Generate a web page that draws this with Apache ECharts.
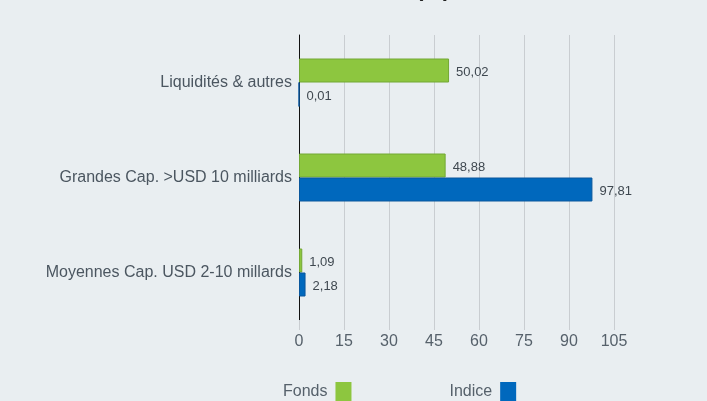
<!DOCTYPE html>
<html>
<head>
<meta charset="utf-8">
<script src="https://cdn.jsdelivr.net/npm/echarts@6/dist/echarts.min.js"></script>
<style>
  html, body { margin: 0; padding: 0; background: #e9eef1; }
  #chart { width: 707px; height: 401px; }
</style>
</head>
<body>
<div id="chart"></div>
<script>
  // categories, top to bottom
  var categories = ['Liquidités & autres', 'Grandes Cap. >USD 10 milliards', 'Moyennes Cap. USD 2-10 millards']
  var seriesNames = ['Fonds', 'Indice']
  var fondsValues = [50.02, 48.88, 1.09]
  var indiceValues = [0.01, 97.81, 2.18]
  var xTicks = [0, 15, 30, 45, 60, 75, 90, 105]

  var fontFamily = '"Liberation Sans", Arial, sans-serif'

  function fmt(v) {
    return v.toFixed(2).replace('.', ',')
  }

  var chart = echarts.init(document.getElementById('chart'), null, { renderer: 'canvas' })

  var labelStyle = {
    show: true,
    position: 'right',
    distance: 7,
    offset: [0, 2],
    color: '#3f4850',
    fontSize: 13,
    fontFamily: fontFamily,
    formatter: function (p) { return fmt(p.value) }
  }

  var options = {
    backgroundColor: '#e9eef1',
    animation: false,
    graphic: [{
      type: 'text',
      left: 416,
      top: -21,
      style: { text: '(%)', fontSize: 22, fontWeight: 'bold', fill: '#222', fontFamily: fontFamily }
    }],
    legend: {
      data: seriesNames,
      left: 278,
      top: 377,
      align: 'right',
      itemWidth: 16,
      itemHeight: 20,
      itemGap: 98,
      icon: 'rect',
      itemStyle: { borderWidth: 0 },
      textStyle: { color: '#56616b', fontSize: 16, fontFamily: fontFamily, padding: [0, 3, 0, 0] }
    },
    grid: {
      left: 299,
      right: 93,
      top: 35,
      bottom: 81,
      containLabel: false
    },
    xAxis: {
      type: 'value',
      min: 0,
      max: xTicks[xTicks.length - 1],
      interval: 15,
      position: 'bottom',
      axisLine: { show: false },
      axisTick: { show: true, length: 10, lineStyle: { color: '#c9cdd1' } },
      splitLine: { show: true, lineStyle: { color: '#c9cdd1', width: 1 } },
      axisLabel: { color: '#56616b', fontSize: 16, fontFamily: fontFamily, margin: 14 }
    },
    yAxis: {
      type: 'category',
      data: categories,
      inverse: true,
      axisLine: { show: true, lineStyle: { color: '#111', width: 1 } },
      axisTick: { show: false },
      axisLabel: { color: '#4b5660', fontSize: 16, fontFamily: fontFamily, margin: 7 }
    },
    series: [{
      name: seriesNames[0],
      type: 'bar',
      data: fondsValues,
      barWidth: 24,
      barGap: '0%',
      itemStyle: { color: '#8dc63f', borderColor: '#73a834', borderWidth: 1 },
      label: labelStyle
    }, {
      name: seriesNames[1],
      type: 'bar',
      data: indiceValues,
      barWidth: 24,
      itemStyle: { color: '#0068bd', borderColor: '#0a579c', borderWidth: 1 },
      label: labelStyle
    }]
  }

  chart.setOption(options)
</script>
</body>
</html>
